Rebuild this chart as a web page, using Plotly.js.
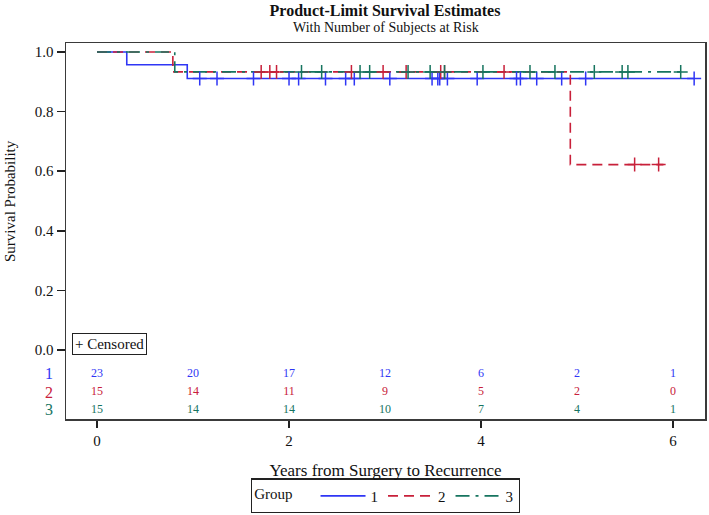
<!DOCTYPE html>
<html>
<head>
<meta charset="utf-8">
<script src="https://cdn.plot.ly/plotly-3.0.1.min.js"></script>
<style>
  body { margin: 0; background: #fff; }
  #km { width: 709px; height: 515px; }
</style>
</head>
<body>
<div id="km"></div>
<script>
// step curves (time in years, survival prob)
var group1Time = [0, 0.31, 0.94, 6.22];
var group1Surv = [1.0, 0.957, 0.911, 0.911];
var group2Time = [0, 0.79, 4.93, 5.9];
var group2Surv = [1.0, 0.933, 0.622, 0.622];
var group3Time = [0, 0.81, 6.1];
var group3Surv = [1.0, 0.933, 0.933];

// censored times
var group1Cens = [1.07, 1.25, 1.63, 2.0, 2.1, 2.38, 2.59, 2.68, 3.05, 3.49, 3.55, 3.57, 3.65, 3.96, 4.37, 4.41, 4.58, 4.84, 5.09, 6.22];
var group2Cens = [1.71, 1.8, 1.87, 2.65, 2.98, 3.22, 3.58, 3.62, 4.24, 5.6, 5.85];
var group3Cens = [2.13, 2.34, 2.74, 2.84, 3.24, 3.47, 3.62, 4.02, 4.51, 4.77, 5.18, 5.47, 5.53, 6.08];

// number at risk
var riskTimes = [0, 1, 2, 3, 4, 5, 6];
var risk1 = [23, 20, 17, 12, 6, 2, 1];
var risk2 = [15, 14, 11, 9, 5, 2, 0];
var risk3 = [15, 14, 14, 10, 7, 4, 1];

var blue = "#2f36f5";
var red = "#c8203a";
var green = "#16745f";
var serif = "Liberation Serif, Times New Roman, serif";

function levelAt(times, surv, t) {
  var s = surv[0];
  for (var i = 0; i < times.length; i++) {
    if (times[i] <= t) s = surv[i];
  }
  return s;
}

function curve(times, surv, name, color, dash) {
  return {
    x: times, y: surv, name: name, type: "scatter", mode: "lines",
    line: {shape: "hv", color: color, width: 1.6, dash: dash}
  };
}

function censMarks(cens, times, surv, color) {
  return {
    x: cens,
    y: cens.map(function (t) { return levelAt(times, surv, t); }),
    type: "scatter", mode: "markers", showlegend: false, hoverinfo: "skip",
    marker: {symbol: "cross-thin", size: 10, line: {color: color, width: 1.5}}
  };
}

function riskRow(counts, yPos, color) {
  return {
    x: riskTimes, y: riskTimes.map(function () { return yPos; }),
    text: counts.map(String), type: "scatter", mode: "text",
    textfont: {family: serif, size: 12, color: color},
    showlegend: false, hoverinfo: "skip"
  };
}

var data = [
  curve(group1Time, group1Surv, "1", blue, "solid"),
  curve(group2Time, group2Surv, "2", red, "10px,6px"),
  curve(group3Time, group3Surv, "3", green, "14px,6px,3px,6px"),
  censMarks(group1Cens, group1Time, group1Surv, blue),
  censMarks(group2Cens, group2Time, group2Surv, red),
  censMarks(group3Cens, group3Time, group3Surv, green),
  riskRow(risk1, -0.0805, blue),
  riskRow(risk2, -0.141, red),
  riskRow(risk3, -0.201, green)
];

var layout = {
  width: 709, height: 515,
  margin: {l: 66, r: 4, t: 43, b: 96, autoexpand: false},
  paper_bgcolor: "#fff", plot_bgcolor: "#fff",
  font: {family: serif, size: 15, color: "#111"},
  title: {
    text: "<b>Product-Limit Survival Estimates</b>",
    font: {family: serif, size: 16, color: "#111"},
    x: 385 / 709, xanchor: "center", y: 1 - 10 / 515, yanchor: "middle"
  },
  xaxis: {
    range: [-0.323, 6.333], tickvals: [0, 2, 4, 6],
    ticks: "outside", ticklen: 7, tickwidth: 1.5, tickcolor: "#222",
    showline: true, mirror: true, linecolor: "#3a3a3a", linewidth: 1.5,
    showgrid: false, zeroline: false, automargin: false,
    tickfont: {family: serif, size: 15},
    title: {text: "Years from Surgery to Recurrence", font: {family: serif, size: 17}, standoff: 16}
  },
  yaxis: {
    range: [-0.2315, 1.030], tickvals: [0, 0.2, 0.4, 0.6, 0.8, 1.0], tickformat: ".1f",
    ticks: "outside", ticklen: 8, tickwidth: 1.5, tickcolor: "#222",
    showline: true, mirror: true, linecolor: "#3a3a3a", linewidth: 1.5,
    showgrid: false, zeroline: false, automargin: false,
    tickfont: {family: serif, size: 15}
  },
  legend: {
    orientation: "h", x: 0.5, xanchor: "center",
    y: -0.158, yanchor: "top",
    bordercolor: "#222", borderwidth: 1.2,
    title: {text: "Group    ", font: {family: serif, size: 15}},
    font: {family: serif, size: 15}, itemwidth: 45
  },
  annotations: [
    {text: "With Number of Subjects at Risk", xref: "paper", yref: "paper",
     x: 0.5, y: 1 + 15 / 376, xanchor: "center", yanchor: "middle", showarrow: false,
     font: {family: serif, size: 14, color: "#111"}},
    {text: "Survival Probability", xref: "paper", yref: "y", x: -56 / 639, y: 0.5,
     xanchor: "center", yanchor: "middle", textangle: -90, showarrow: false,
     font: {family: serif, size: 15, color: "#111"}},
    {text: "+ Censored", xref: "x", yref: "y", x: 0.135, y: 0.02,
     xanchor: "center", yanchor: "middle", showarrow: false,
     bordercolor: "#222", borderwidth: 1, borderpad: 2,
     font: {family: serif, size: 15, color: "#111"}},
    {text: "1", xref: "paper", yref: "y", x: -0.027, y: -0.0805, xanchor: "center", showarrow: false,
     font: {family: serif, size: 16, color: blue}},
    {text: "2", xref: "paper", yref: "y", x: -0.027, y: -0.141, xanchor: "center", showarrow: false,
     font: {family: serif, size: 16, color: red}},
    {text: "3", xref: "paper", yref: "y", x: -0.027, y: -0.201, xanchor: "center", showarrow: false,
     font: {family: serif, size: 16, color: green}}
  ],
  showlegend: true
};

Plotly.newPlot("km", data, layout, {displayModeBar: false, staticPlot: true});
</script>
</body>
</html>
